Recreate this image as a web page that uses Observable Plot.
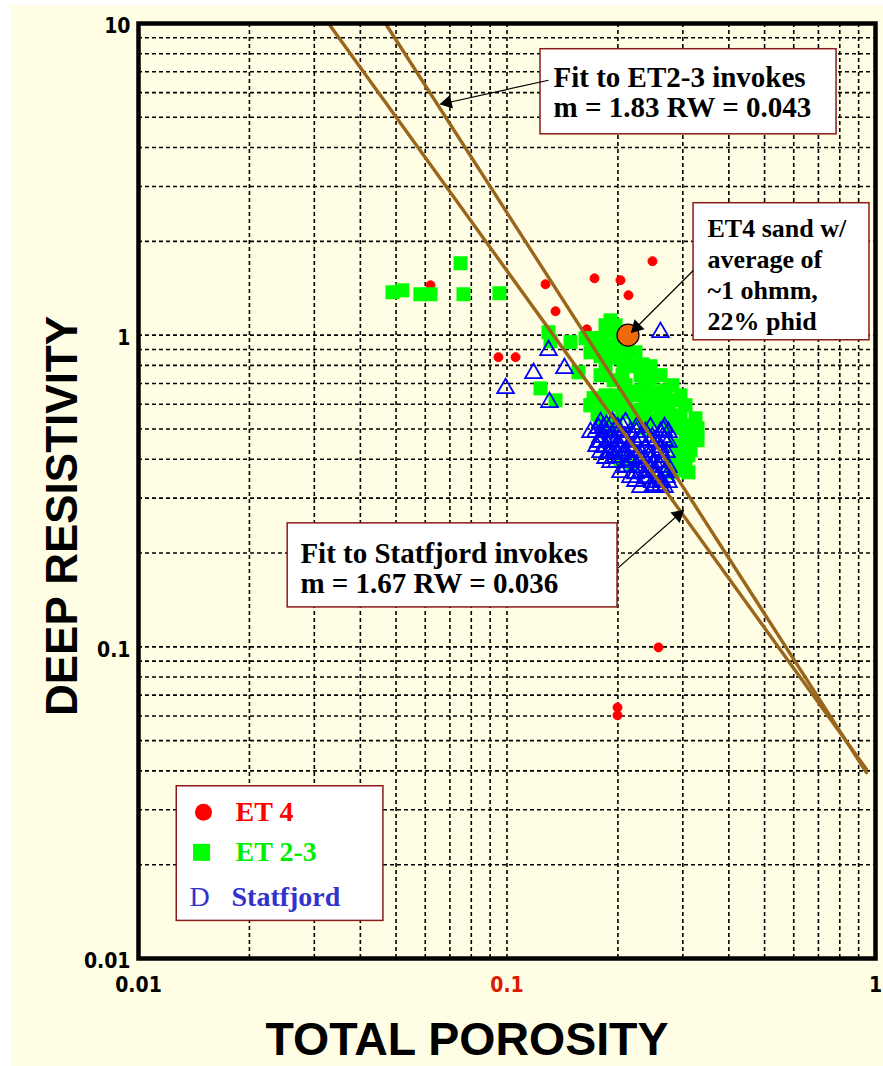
<!DOCTYPE html>
<html>
<head>
<meta charset="utf-8">
<script src="https://cdn.jsdelivr.net/npm/d3@7"></script>
<script src="https://cdn.jsdelivr.net/npm/@observablehq/plot@0.6"></script>
<style>
  html, body { margin: 0; padding: 0; background: #ffffff; }
  #wrap { position: relative; width: 883px; height: 1066px; overflow: hidden; }
  #bg { position: absolute; left: 11px; top: 5px; right: 0; bottom: 0; background: #fffee4; }
  #chart { position: absolute; left: 0; top: 0; }
</style>
</head>
<body>
<div id="wrap"><div id="bg"></div><div id="chart"></div></div>
<script>
// ---- data ----
const et4Phi = [0.0620, 0.1272, 0.1354, 0.1728, 0.2032, 0.2136, 0.2482, 0.1647, 0.0948, 0.1055, 0.2577, 0.1995, 0.1995, 0.2625];
const et4Rt  = [1.446, 1.457, 1.193, 1.522, 1.501, 1.343, 1.727, 1.044, 0.850, 0.850, 0.0996, 0.0639, 0.0603, 0.342];

const et23Phi = [0.0489,0.0520,0.0582,0.0620,0.0748,0.0762,0.0954,0.1296,0.1312,0.1487,0.1233,0.1354,0.1909,0.1921,0.1633,0.1739,0.1851,0.1995,0.2123,0.1794,0.1934,0.2071,0.2332,0.1947,0.2303,0.2451,0.2303,0.2529,0.2376,0.2609,0.2692,0.2813,0.1717,0.1794,0.1761,0.1933,0.2058,0.2191,0.2376,0.2529,0.1970,0.2956,0.3107,0.3186,0.2866,0.2920,0.2956,0.2032,0.2191,0.2058,0.3050,0.2777,0.2609,0.1851,0.1685,0.2136,0.1563,0.3107,
  0.1851,0.1970,0.1706,0.1794,0.2007,0.1685,0.2232,0.1851,0.2191,0.2451,0.1794,0.2058,0.2609,0.2097,0.2376,0.2813,0.1970,0.2232,0.2451,0.2956,0.1685,0.1851,0.2097,0.2529,0.2743,0.3050,0.1794,0.2232,0.2692,0.2866,0.3247,0.1909,0.2376,0.2956,0.3289,0.3147,0.3289,0.2956,0.3147,0.2777,0.3050,0.2813,0.3107];
const et23Rt  = [1.373,1.393,1.353,1.353,1.701,1.353,1.363,1.022,0.956,0.950,0.675,0.618,1.116,1.029,0.978,0.928,0.928,0.908,0.881,0.856,0.844,0.819,0.806,0.717,0.744,0.728,0.666,0.656,0.609,0.618,0.666,0.618,0.628,0.583,0.557,0.596,0.566,0.574,0.553,0.533,0.533,0.553,0.514,0.484,0.443,0.403,0.368,0.397,0.382,0.963,0.460,0.514,0.574,0.641,0.596,0.656,0.760,0.412,
  1.076,1.076,0.978,0.978,0.978,0.881,0.881,0.795,0.795,0.795,0.744,0.744,0.744,0.691,0.691,0.691,0.641,0.641,0.641,0.641,0.596,0.596,0.596,0.596,0.596,0.596,0.541,0.541,0.541,0.541,0.541,0.503,0.503,0.503,0.503,0.460,0.460,0.427,0.427,0.391,0.391,0.363,0.363];

const statPhi = [0.1296,0.1432,0.1180,0.0991,0.1304,0.2609,0.1685,0.1828,0.1874,0.2232,0.2232,0.1772,0.1862,0.1957,0.1794,0.1909,0.2032,0.2136,0.1957,0.2058,0.2191,0.2303,0.2421,0.2514,0.2391,0.2546,0.2625,0.2609,0.2676,0.2609,0.2658,0.2110,0.1982,0.2303,0.2451,0.2246,0.2058,0.1750,0.1851,0.2376,0.2709,0.2529,0.2163,
  0.1794,0.1934,0.2097,0.1739,0.1851,0.2007,0.2163,0.2376,0.2609,0.2743,0.1772,0.1970,0.2232,0.2529,0.2743,0.1794,0.1909,0.2097,0.2303,0.2529,0.2709,0.1909,0.2163,0.2376,0.2642,0.2032,0.2303,0.2482,0.2692,0.2482,0.2609,0.2743,
  0.1828,0.1995,0.2246,0.2451,0.2676,0.1794,0.1909,0.2084,0.2303,0.2482,0.2642,0.1851,0.2032,0.2163,0.2376,0.2609,0.1970,0.2232,0.2421,0.2642,0.2097,0.2260,0.2451,0.2609,0.2743,0.2163,0.2376,0.2562,0.2709,0.2303,0.2482,0.2676];
const statRt  = [0.894,0.783,0.755,0.675,0.609,1.022,0.488,0.470,0.418,0.360,0.340,0.503,0.514,0.495,0.454,0.460,0.467,0.440,0.427,0.415,0.427,0.403,0.421,0.391,0.368,0.363,0.342,0.328,0.460,0.427,0.495,0.379,0.391,0.460,0.460,0.488,0.510,0.440,0.403,0.347,0.368,0.330,0.397,
  0.525,0.525,0.525,0.488,0.488,0.488,0.488,0.488,0.488,0.488,0.454,0.454,0.454,0.454,0.454,0.421,0.421,0.421,0.421,0.421,0.421,0.391,0.391,0.391,0.391,0.363,0.363,0.363,0.363,0.337,0.337,0.337,
  0.506,0.506,0.506,0.506,0.506,0.470,0.470,0.470,0.470,0.470,0.470,0.437,0.437,0.437,0.437,0.437,0.406,0.406,0.406,0.406,0.377,0.377,0.377,0.377,0.377,0.350,0.350,0.350,0.350,0.325,0.325,0.325];

const avgPhi = [0.213];
const avgRt  = [1.0];

const fitEt23Phi = [0.0468, 0.945];
const fitEt23Rt  = [10, 0.0395];
const fitStatPhi = [0.0328, 0.945];
const fitStatRt  = [10, 0.0405];

const gridX = [0.02,0.03,0.04,0.05,0.06,0.07,0.08,0.09,0.1,0.2,0.3,0.4,0.5,0.6,0.7,0.8,0.9];
const gridY = [0.02,0.03,0.04,0.05,0.06,0.07,0.08,0.09,0.1,0.2,0.3,0.4,0.5,0.6,0.7,0.8,0.9,1,2,3,4,5,6,7,8,9];

const xTickValues = [0.01, 0.1, 1];
const xTickLabels = ["0.01", "0.1", "1"];
const xTickColors = ["#000000", "#dd1a00", "#000000"];
const yTickValues = [10, 1, 0.1, 0.01];
const yTickLabels = ["10", "1", "0.1", "0.01"];

const legendNames = ["ET 4", "ET 2-3", "Statfjord"];
const legendColors = ["#ff0000", "#00ee00", "#3333cc"];

// annotations (positions in data units)
const noteTexts = ["Fit to ET2-3 invokes\nm = 1.83 RW = 0.043", "Fit to Statfjord invokes\nm = 1.67 RW = 0.036", "ET4 sand w/\naverage of\n~1 ohmm,\n22% phid"];
const noteBoxes = [
  {x1: 0.1233, x2: 0.784, y1: 8.27, y2: 4.41},
  {x1: 0.0254, x2: 0.1995, y1: 0.249, y2: 0.1338},
  {x1: 0.3208, x2: 0.963, y1: 2.651, y2: 0.963}
];
const noteAnchors = [
  {x: 0.1337, y: 6.02, size: 29, lh: 1.04},
  {x: 0.0275, y: 0.1786, size: 29, lh: 1.04},
  {x: 0.35, y: 1.574, size: 26, lh: 1.19}
];
const arrows = [
  {x1: 0.1296, y1: 6.577, x2: 0.066, y2: 5.508, rot: 257.5, dx: 7.0, dy: -1.6},
  {x1: 0.1995, y1: 0.1786, x2: 0.3013, y2: 0.2742, rot: 48.7, dx: -5.4, dy: 4.7},
  {x1: 0.3208, y1: 1.615, x2: 0.2177, y2: 1.0217, rot: 225, dx: 5.1, dy: -5.1}
];
const legendBox = [{x1: 0.0127, x2: 0.0462, y1: 0.0357, y2: 0.0132}];
const legendY = [0.02944, 0.02191, 0.01571];
const legendSymX = [0.01501, 0.01483, 0.01464];
const legendTextX = [0.01834, 0.01834, 0.01788];

// ---- tables ----
const toRows = (p, r) => p.map((v, i) => ({phi: v, rt: r[i]}));
const et4 = toRows(et4Phi, et4Rt);
const et23 = toRows(et23Phi, et23Rt);
const stat = toRows(statPhi, statRt);
const avg = toRows(avgPhi, avgRt);
const fitEt23 = toRows(fitEt23Phi, fitEt23Rt);
const fitStat = toRows(fitStatPhi, fitStatRt);
const xTicks = xTickValues.map((v, i) => ({v, label: xTickLabels[i], color: xTickColors[i]}));
const yTicks = yTickValues.map((v, i) => ({v, label: yTickLabels[i]}));
const notes = noteTexts.map((t, i) => ({text: t, ...noteAnchors[i]}));

const tickFont = "Liberation Sans Narrow, DejaVu Sans Condensed, sans-serif";
const serif = "Liberation Serif, Times New Roman, serif";
const titleFont = "Liberation Sans, Arial, sans-serif";
const brown = "#9a661c";

const plot = Plot.plot({
  width: 883,
  height: 1066,
  marginLeft: 138,
  marginRight: 8,
  marginTop: 23,
  marginBottom: 108,
  x: {type: "log", domain: [0.01, 1], axis: null},
  y: {type: "log", domain: [0.01, 10], axis: null},
  color: {type: "identity"},
  style: {background: "transparent", overflow: "visible"},
  marks: [
    Plot.ruleX(gridX, {x: d => d, stroke: "#000", strokeWidth: 1.6, strokeDasharray: "4,3"}),
    Plot.ruleY(gridY, {y: d => d, stroke: "#000", strokeWidth: 1.6, strokeDasharray: "4,3"}),
    Plot.dot(et4, {x: "phi", y: "rt", r: 4.5, fill: "#ff0000", stroke: "#ff0000", strokeWidth: 1}),
    Plot.dot(et23, {x: "phi", y: "rt", symbol: "square", r: 7.9, fill: "#00ff00"}),
    Plot.dot(stat, {x: "phi", y: "rt", symbol: "triangle", r: 6.2, fill: "none", stroke: "#0000ff", strokeWidth: 1.8}),
    Plot.line(fitStat, {x: "phi", y: "rt", stroke: brown, strokeWidth: 3.4}),
    Plot.line(fitEt23, {x: "phi", y: "rt", stroke: brown, strokeWidth: 3.4}),
    Plot.dot(avg, {x: "phi", y: "rt", r: 11, fill: "#f06a0c", stroke: "#000", strokeWidth: 1.2}),
    // annotation boxes
    Plot.rect(noteBoxes, {x1: "x1", x2: "x2", y1: "y1", y2: "y2", fill: "#ffffff", stroke: "#8b1a1a", strokeWidth: 1.5}),
    ...notes.map(n => Plot.text([n], {x: "x", y: "y", text: "text", textAnchor: "start", lineAnchor: "middle", fontFamily: serif, fontWeight: "bold", fontSize: n.size, lineHeight: n.lh, fill: "#000"})),
    Plot.link(arrows, {x1: "x1", y1: "y1", x2: "x2", y2: "y2", stroke: "#000", strokeWidth: 1.2}),
    ...arrows.map(a => Plot.dot([a], {x: "x2", y: "y2", symbol: "triangle", r: 5.2, rotate: a.rot, fill: "#000", dx: a.dx, dy: a.dy})),
    // legend
    Plot.rect(legendBox, {x1: "x1", x2: "x2", y1: "y1", y2: "y2", fill: "#ffffff", stroke: "#8b1a1a", strokeWidth: 1.5}),
    Plot.dot([0], {x: () => legendSymX[0], y: () => legendY[0], r: 8.5, fill: "#ff0000"}),
    Plot.dot([0], {x: () => legendSymX[1], y: () => legendY[1], symbol: "square", r: 9.6, fill: "#00ff00"}),
    Plot.text(["D"], {x: () => legendSymX[2], y: () => legendY[2], text: d => d, fontFamily: serif, fontSize: 28, fill: "#3333cc"}),
    Plot.text(legendNames, {x: (d, i) => legendTextX[i], y: (d, i) => legendY[i], text: d => d, fill: (d, i) => legendColors[i], textAnchor: "start", fontFamily: serif, fontWeight: "bold", fontSize: 28}),
    // frame
    Plot.frame({stroke: "#000", strokeWidth: 4.5}),
    // tick labels
    Plot.text(xTicks, {x: "v", text: "label", fill: "color", frameAnchor: "bottom", lineAnchor: "middle", dy: 27, fontFamily: tickFont, fontWeight: "bold", fontSize: 21}),
    Plot.text(yTicks, {y: "v", text: "label", fill: "#000", frameAnchor: "left", textAnchor: "end", lineAnchor: "middle", dx: -8, dy: 3, fontFamily: tickFont, fontWeight: "bold", fontSize: 21}),
    // axis titles
    Plot.text(["TOTAL POROSITY"], {frameAnchor: "bottom", text: d => d, textAnchor: "middle", lineAnchor: "middle", dx: -40, dy: 82, fontFamily: titleFont, fontWeight: "bold", fontSize: 46.5, fill: "#000"}),
    Plot.text(["DEEP RESISTIVITY"], {frameAnchor: "left", text: d => d, rotate: -90, textAnchor: "middle", lineAnchor: "middle", dx: -76, dy: 25, fontFamily: titleFont, fontWeight: "bold", fontSize: 44, fill: "#000"})
  ]
});
document.getElementById("chart").appendChild(plot);
</script>
</body>
</html>
